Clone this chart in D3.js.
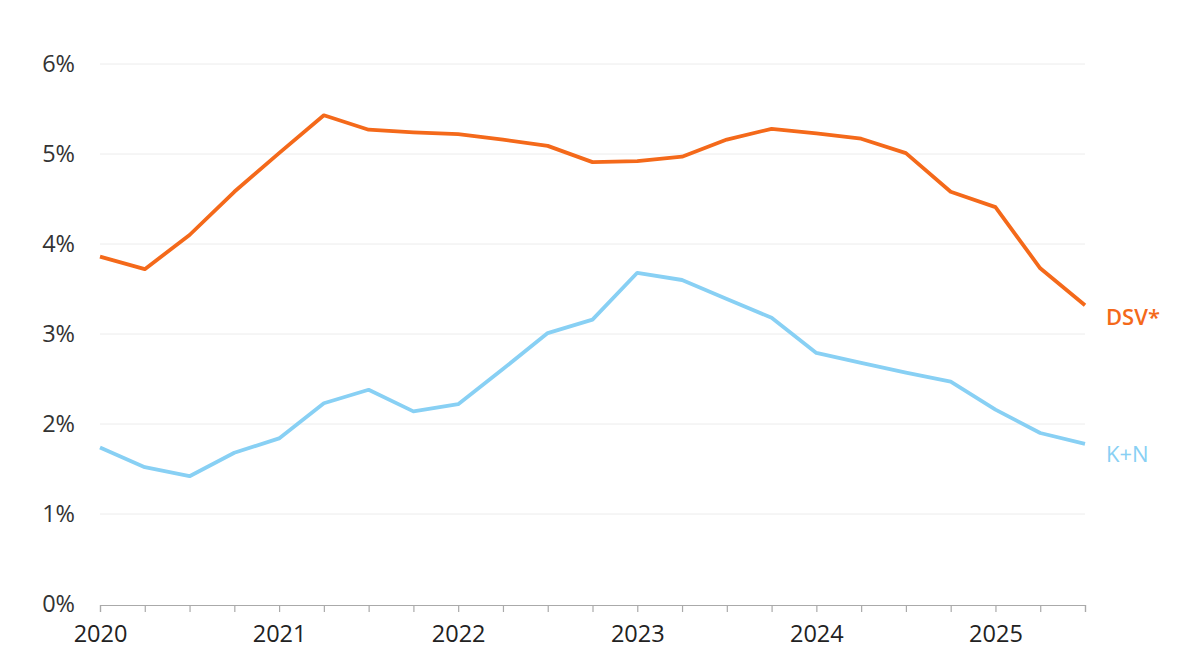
<!DOCTYPE html>
<html>
<head>
<meta charset="utf-8">
<script src="https://cdn.jsdelivr.net/npm/d3@7"></script>
<style>
  body { margin: 0; background: #fff; }
  svg { display: block; font-family: "Open Sans", sans-serif; }
</style>
</head>
<body>
<div id="chart"></div>
<script>
// quarterly points, 2020 Q1 .. 2025 Q3 (as decimal years)
const quarters = d3.range(0, 23).map(i => 2020 + i * 0.25);
const yearTicks = [2020, 2021, 2022, 2023, 2024, 2025];
const yTicks = [0, 1, 2, 3, 4, 5, 6];

const dsv = [3.86, 3.72, 4.10, 4.58, 5.01, 5.43, 5.27, 5.24, 5.22, 5.16, 5.09, 4.91,
             4.92, 4.97, 5.16, 5.28, 5.23, 5.17, 5.01, 4.58, 4.41, 3.73, 3.32];
const kn  = [1.74, 1.52, 1.42, 1.68, 1.84, 2.23, 2.38, 2.14, 2.22, 2.61, 3.01, 3.16,
             3.68, 3.60, 3.39, 3.18, 2.79, 2.68, 2.57, 2.47, 2.16, 1.90, 1.78];

const series = [
  { name: "DSV*", values: dsv, color: "#f4691a", weight: 600, dy: 20 },
  { name: "K+N", values: kn, color: "#88d0f4", weight: 400, dy: 18 }
];

const width = 1200, height = 668;
const margin = { top: 64, right: 115, bottom: 64, left: 100 };

const svg = d3.select("#chart").append("svg")
  .attr("width", width)
  .attr("height", height);

const x = d3.scaleLinear()
  .domain([2020, 2025.5])
  .range([margin.left, width - margin.right]);

const y = d3.scaleLinear()
  .domain([0, 6])
  .range([height - margin.bottom, margin.top]);

// gridlines
svg.append("g")
  .selectAll("line")
  .data(yTicks.filter(d => d > 0))
  .join("line")
  .attr("x1", x(2020))
  .attr("x2", x(2025.5))
  .attr("y1", d => y(d))
  .attr("y2", d => y(d))
  .attr("stroke", "#ececec")
  .attr("stroke-width", 1);

// y labels
svg.append("g")
  .selectAll("text")
  .data(yTicks)
  .join("text")
  .attr("x", 75)
  .attr("y", d => y(d) + 8)
  .attr("text-anchor", "end")
  .attr("font-size", 23.5)
  .attr("fill", "#333")
  .text(d => d + "%");

// x axis
const xAxis = svg.append("g")
  .attr("transform", `translate(0,${y(0) + 1})`)
  .call(d3.axisBottom(x)
    .tickValues(quarters)
    .tickSize(7)
    .tickFormat(d => yearTicks.includes(d) ? d : ""));

xAxis.select(".domain").attr("stroke", "#aaa").attr("stroke-width", 1.2);
xAxis.selectAll(".tick line").attr("stroke", "#aaa").attr("stroke-width", 1.2);
xAxis.selectAll(".tick text")
  .attr("font-size", 23.5)
  .attr("font-family", "Open Sans, sans-serif")
  .attr("fill", "#222")
  .attr("dy", "1.15em");

// lines
const line = d3.line()
  .x((d, i) => x(quarters[i]))
  .y(d => y(d));

svg.append("g")
  .selectAll("path")
  .data(series)
  .join("path")
  .attr("d", d => line(d.values))
  .attr("fill", "none")
  .attr("stroke", d => d.color)
  .attr("stroke-width", 3.8)
  .attr("stroke-linejoin", "round");

// end labels
svg.append("g")
  .selectAll("text")
  .data(series)
  .join("text")
  .attr("x", x(2025.5) + 21)
  .attr("y", d => y(d.values[d.values.length - 1]) + d.dy)
  .attr("font-size", 22)
  .attr("font-weight", d => d.weight)
  .attr("fill", d => d.color)
  .text(d => d.name);
</script>
</body>
</html>
